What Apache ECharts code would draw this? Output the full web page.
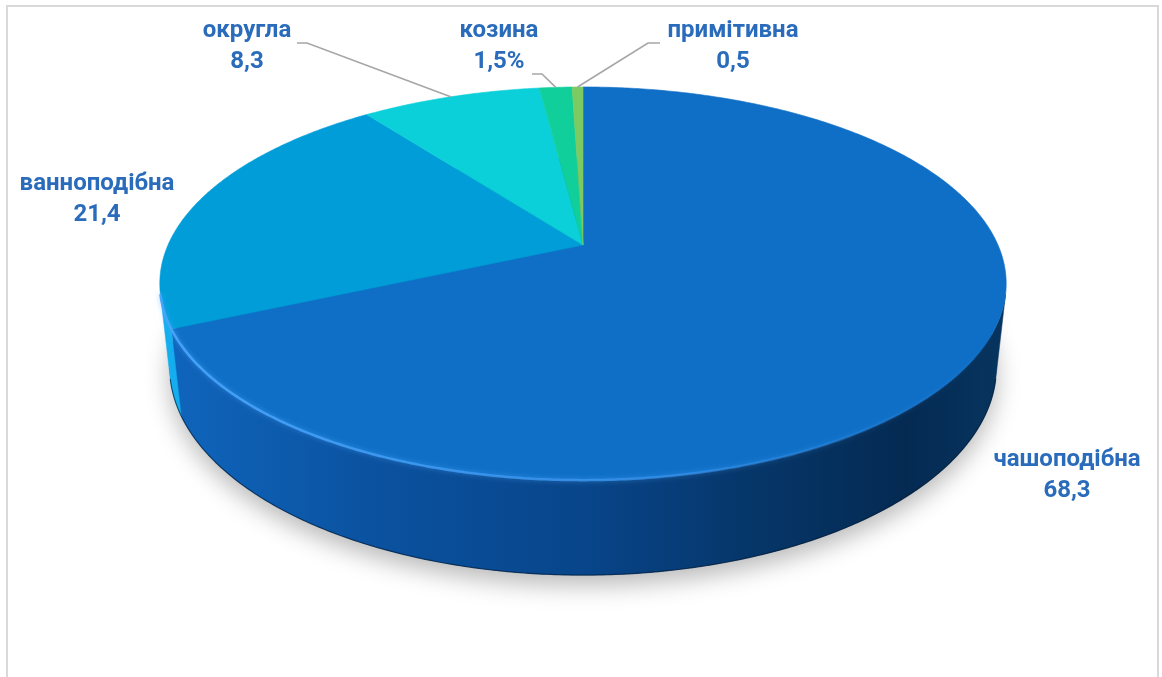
<!DOCTYPE html>
<html>
<head>
<meta charset="utf-8">
<script src="https://cdn.jsdelivr.net/npm/echarts@6/dist/echarts.min.js"></script>
<style>
  html, body { margin: 0; padding: 0; background: #fff; }
  #chart { width: 1162px; height: 677px; }
</style>
</head>
<body>
<div id="chart"></div>
<script>
// Форма піднебіння, %
const categories = ['чашоподібна', 'ванноподібна', 'округла', 'козина', 'примітивна'];
const values = [68.3, 21.4, 8.3, 1.5, 0.5];
const valueSuffix = ['', '', '', '%', ''];

const topColors = ['#0F6FC6', '#009DD9', '#0BD0D9', '#10CF9B', '#7CCA62'];
const wallColors = ['#0e63ba', '#14aeee', '#19d6e0', '#16d4a2', '#86d26c'];

// camera for the tilted disc (radius = 1)
const view = { cx: 583, cy: 245, f: 1884, dist: 4.54, tilt: 27.1, depth: 0.227 };

// label anchors (text block centres) and leader stubs
const labelAnchors = [[1067, 475], [97, 199], [247, 46], [499, 46], [733, 46]];
const leaderStubs = [null, null, [[297, 43], [307, 43]], [[532, 74], [542, 74]], [[660, 43], [648, 43]]];

const RAD = Math.PI / 180;
const sa = Math.sin(view.tilt * RAD), ca = Math.cos(view.tilt * RAD);

function project(phi, r, y) {
  const x = r * Math.sin(phi * RAD), z = r * Math.cos(phi * RAD);
  const d = view.dist + z * ca - y * sa;
  const u = y * ca + z * sa;
  return [view.cx + view.f * x / d, view.cy - view.f * u / d];
}
function arc(a0, a1, y) {
  const n = Math.max(2, Math.ceil(Math.abs(a1 - a0) / 0.5));
  const pts = [];
  for (let k = 0; k <= n; k++) pts.push(project(a0 + (a1 - a0) * k / n, 1, y));
  return pts;
}

const total = values.reduce((s, v) => s + v, 0);
const starts = [];
values.reduce((acc, v, i) => { starts[i] = acc / total * 360; return acc + v; }, 0);

// the outer wall faces the camera only inside this angular window
const visFrom = Math.acos(-1 / (view.dist * ca)) / RAD;
const visTo = 360 - visFrom;

function fmt(v, i) { return String(v).replace('.', ',') + valueSuffix[i]; }

function renderItem(params, api) {
  const i = params.dataIndex;
  const v = api.value(0);
  const a0 = starts[i], a1 = a0 + v / total * 360;
  const h = -view.depth;
  const children = [];

  if (i === 0) {
    // soft shadow under the disc
    children.push({
      type: 'polygon', z2: 0,
      shape: { points: arc(0, 360, h) },
      style: { fill: '#0a3f78', shadowBlur: 24, shadowColor: 'rgba(0,0,0,0.28)', shadowOffsetY: 10 }
    });
    // rim highlight along the front edge
    children.push({
      type: 'polyline', z2: 12,
      shape: { points: arc(visFrom + 2, visTo, 0) },
      style: {
        fill: null, lineWidth: 2.5,
        stroke: new echarts.graphic.LinearGradient(170, 0, 1000, 0, [
          { offset: 0, color: 'rgba(70,165,250,0.95)' },
          { offset: 0.55, color: 'rgba(60,150,240,0.75)' },
          { offset: 1, color: 'rgba(60,150,240,0)' }
        ], true),
        shadowBlur: 5, shadowColor: 'rgba(80,170,255,0.6)'
      }
    });
    // dark bottom edge
    children.push({
      type: 'polyline', z2: 6,
      shape: { points: arc(visFrom, visTo, h) },
      style: { fill: null, stroke: 'rgba(2,25,50,0.6)', lineWidth: 1.2 }
    });
  }

  // outer wall, clipped to its visible part
  const w0 = Math.max(a0, visFrom), w1 = Math.min(a1, visTo);
  if (w1 > w0) {
    const pts = arc(w0, w1, 0).concat(arc(w1, w0, h));
    let fill = wallColors[i];
    if (i === 0) {
      fill = new echarts.graphic.LinearGradient(160, 0, 1007, 0, [
        { offset: 0, color: '#0f66bd' },
        { offset: 0.25, color: '#0b52a0' },
        { offset: 0.5, color: '#08458a' },
        { offset: 0.7, color: '#063669' },
        { offset: 0.88, color: '#042a52' },
        { offset: 1, color: '#07355f' }
      ], true);
    }
    children.push({ type: 'polygon', z2: 5, shape: { points: pts }, style: { fill: fill, stroke: fill, lineWidth: 0.5 } });
  }

  // top face
  const top = [project(0, 0, 0)].concat(arc(a0, a1, 0));
  children.push({
    type: 'polygon', z2: 10,
    shape: { points: top },
    style: { fill: topColors[i], stroke: topColors[i], lineWidth: 0.6 }
  });

  // label
  const anchor = labelAnchors[i];
  children.push({
    type: 'text', z2: 20,
    x: anchor[0], y: anchor[1],
    style: {
      text: categories[i] + '\n' + fmt(v, i),
      fill: '#2a6cbb',
      font: 'bold 24px Roboto, "Noto Sans", sans-serif',
      lineHeight: 31,
      align: 'center', verticalAlign: 'middle',
      textAlign: 'center', textVerticalAlign: 'middle'
    }
  });

  // leader line to the middle of the slice rim
  const stub = leaderStubs[i];
  if (stub) {
    const end = project((a0 + a1) / 2, 1, 0);
    children.push({
      type: 'polyline', z2: 20,
      shape: { points: [stub[0], stub[1], end] },
      style: { fill: null, stroke: '#a6a6a6', lineWidth: 1.6 }
    });
  }

  return { type: 'group', children: children };
}

const chart = echarts.init(document.getElementById('chart'), null, { renderer: 'canvas' });
chart.setOption({
  backgroundColor: '#fff',
  animation: false,
  graphic: [{
    type: 'rect', z: -1,
    shape: { x: 7, y: 6, width: 1151, height: 700 },
    style: { fill: null, stroke: '#d9d9d9', lineWidth: 2 }
  }],
  series: [{
    type: 'custom',
    coordinateSystem: 'none',
    renderItem: renderItem,
    data: values.map((v, i) => ({ name: categories[i], value: v }))
  }]
});
</script>
</body>
</html>
